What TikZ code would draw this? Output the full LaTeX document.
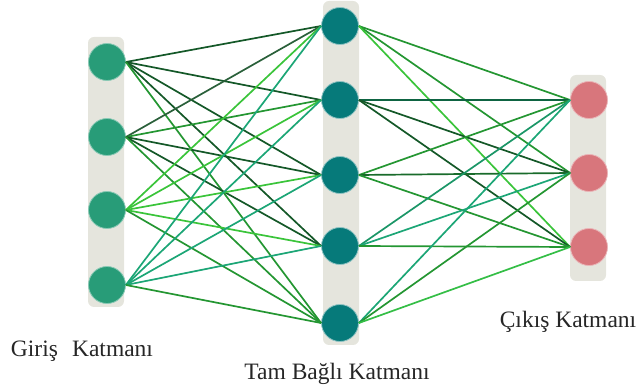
\documentclass[tikz,border=0pt]{standalone}
\usepackage{fontspec}
\setmainfont{Liberation Serif}
\usepackage{tikz}
\usetikzlibrary{arrows}

\definecolor{barGray}{RGB}{229,229,221}
\definecolor{inFill}{RGB}{40,156,120}
\definecolor{hidFill}{RGB}{6,122,122}
\definecolor{outFill}{RGB}{216,118,124}
\definecolor{darkG}{RGB}{20,88,40}
\definecolor{midG}{RGB}{36,150,50}
\definecolor{brightG}{RGB}{58,196,58}
\definecolor{tealG}{RGB}{28,166,118}

\begin{document}
\begin{tikzpicture}[x=1pt,y=-1pt,
	main_bar/.style={rectangle,fill=barGray,rounded corners=6pt,minimum width=36pt,inner sep=0pt},
	in_node/.style={circle,fill=inFill,draw=inFill!55!white,line width=0.8pt,minimum size=37pt,inner sep=0pt},
	hid_node/.style={circle,fill=hidFill,draw=hidFill!45!white,line width=0.8pt,minimum size=37pt,inner sep=0pt},
	out_node/.style={circle,fill=outFill,draw=outFill!55!white,line width=0.8pt,minimum size=37pt,inner sep=0pt},
	edge_line/.style={line width=1.7pt},
	layer_text/.style={anchor=base,inner sep=0pt,text=black!85,font=\fontsize{23.5}{27}\selectfont}]
		
		\useasboundingbox (0,0) rectangle (643,387);
		
		\node[main_bar,minimum height=270pt] (b1) at (106,172) {};
		\node[main_bar,minimum height=344pt] (b2) at (341,173) {};
		\node[main_bar,minimum height=206pt] (b3) at (588,178) {};
		
		\node[in_node] (1) at (107,62) {};
		\node[in_node] (2) at (107,137) {};
		\node[in_node] (3) at (107,210) {};
		\node[in_node] (4) at (107,285) {};
		\node[hid_node] (5) at (340,26) {};
		\node[hid_node] (6) at (340,100) {};
		\node[hid_node] (7) at (340,175) {};
		\node[hid_node] (8) at (340,246) {};
		\node[hid_node] (9) at (340,323) {};
		\node[out_node] (10) at (589,100) {};
		\node[out_node] (11) at (589,173) {};
		\node[out_node] (12) at (589,247) {};
		
		\draw[edge_line,darkG] (1.east) -- (5.west);
		\draw[edge_line,darkG] (1.east) -- (6.west);
		\draw[edge_line,darkG] (1.east) -- (7.west);
		\draw[edge_line,darkG] (1.east) -- (8.west);
		\draw[edge_line,midG] (1.east) -- (9.west);
		\draw[edge_line,darkG!80!gray] (2.east) -- (5.west);
		\draw[edge_line,midG] (2.east) -- (6.west);
		\draw[edge_line,darkG] (2.east) -- (7.west);
		\draw[edge_line,darkG] (2.east) -- (8.west);
		\draw[edge_line,midG] (2.east) -- (9.west);
		\draw[edge_line,brightG] (3.east) -- (5.west);
		\draw[edge_line,brightG] (3.east) -- (6.west);
		\draw[edge_line,brightG] (3.east) -- (7.west);
		\draw[edge_line,brightG] (3.east) -- (8.west);
		\draw[edge_line,midG] (3.east) -- (9.west);
		\draw[edge_line,tealG] (4.east) -- (5.west);
		\draw[edge_line,tealG] (4.east) -- (6.west);
		\draw[edge_line,tealG] (4.east) -- (7.west);
		\draw[edge_line,tealG] (4.east) -- (8.west);
		\draw[edge_line,midG] (4.east) -- (9.west);
		
		\draw[edge_line,midG] (5.east) -- (10.west);
		\draw[edge_line,midG] (5.east) -- (11.west);
		\draw[edge_line,brightG] (5.east) -- (12.west);
		\draw[edge_line,darkG!70!teal] (6.east) -- (10.west);
		\draw[edge_line,darkG] (6.east) -- (11.west);
		\draw[edge_line,darkG] (6.east) -- (12.west);
		\draw[edge_line,midG] (7.east) -- (10.west);
		\draw[edge_line,darkG!70!midG] (7.east) -- (11.west);
		\draw[edge_line,midG] (7.east) -- (12.west);
		\draw[edge_line,tealG!80!darkG] (8.east) -- (10.west);
		\draw[edge_line,tealG] (8.east) -- (11.west);
		\draw[edge_line,midG] (8.east) -- (12.west);
		\draw[edge_line,tealG] (9.east) -- (10.west);
		\draw[edge_line,midG] (9.east) -- (11.west);
		\draw[edge_line,brightG!80!tealG] (9.east) -- (12.west);
		
		\node[layer_text] (t1) at (82,357) {Giriş\hspace{0.35em} Katmanı};
		\node[layer_text] (t2) at (337,380) {Tam Bağlı Katmanı};
		\node[layer_text] (t3) at (568,328) {Çıkış Katmanı};
		\end{tikzpicture}
\end{document}
